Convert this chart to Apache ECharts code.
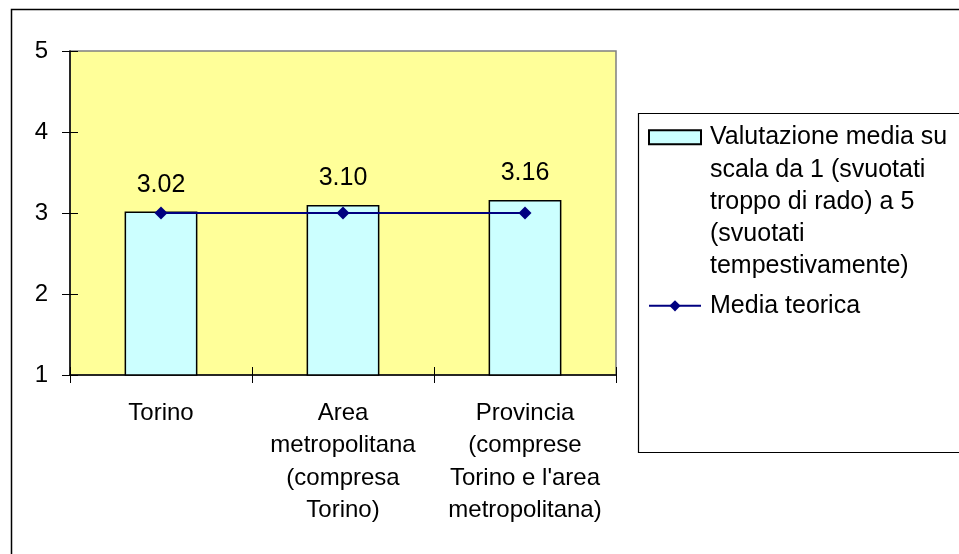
<!DOCTYPE html>
<html>
<head>
<meta charset="utf-8">
<script src="https://cdn.jsdelivr.net/npm/echarts@6/dist/echarts.min.js"></script>
<style>
  html, body { margin: 0; padding: 0; background: #ffffff; }
  #chart { width: 959px; height: 554px; }
</style>
</head>
<body>
<div id="chart"></div>
<script>
// Categories along the x axis
const categories = [
  'Torino',
  'Area\nmetropolitana\n(compresa\nTorino)',
  "Provincia\n(comprese\nTorino e l'area\nmetropolitana)"
];
// Average rating on a 1–5 scale
const ratingValues = [3.02, 3.10, 3.16];
// Theoretical midpoint of the scale
const theoreticalMean = [3, 3, 3];
// Y axis range
const yMin = 1, yMax = 5, yStep = 1;

const ratingName = 'Valutazione media su\nscala da 1 (svuotati\ntroppo di rado) a 5\n(svuotati\ntempestivamente)';
const meanName = 'Media teorica';

const FONT = '"Liberation Sans", Arial, sans-serif';

const chart = echarts.init(document.getElementById('chart'), null, { renderer: 'canvas' });

chart.setOption({
  animation: false,
  backgroundColor: '#ffffff',
  textStyle: { fontFamily: FONT, color: '#000000' },
  grid: {
    left: 70, top: 51, right: 343, bottom: 179,
    show: true,
    backgroundColor: '#FFFF99',
    borderColor: '#808080',
    borderWidth: 1.5
  },
  xAxis: [{
    type: 'category',
    data: categories,
    boundaryGap: true,
    axisLine: { show: true, lineStyle: { color: '#000000', width: 1.5 } },
    axisTick: { show: true, length: 8, alignWithLabel: false, lineStyle: { color: '#000000', width: 1 } },
    axisLabel: {
      interval: 0, margin: 22,
      fontSize: 24, lineHeight: 32.5, color: '#000000', fontFamily: FONT
    },
    splitLine: { show: false }
  }, {
    // inner half of the crossing tick marks
    type: 'category',
    data: categories,
    position: 'bottom',
    boundaryGap: true,
    axisLine: { show: false },
    axisTick: { show: true, inside: true, length: 8, lineStyle: { color: '#000000', width: 1 } },
    axisLabel: { show: false },
    splitLine: { show: false }
  }],
  yAxis: [{
    type: 'value',
    min: yMin, max: yMax, interval: yStep,
    axisLine: { show: true, lineStyle: { color: '#000000', width: 1.5 } },
    axisTick: { show: true, length: 8, lineStyle: { color: '#000000', width: 1 } },
    axisLabel: { margin: 22, fontSize: 24, color: '#000000', fontFamily: FONT },
    splitLine: { show: false }
  }, {
    type: 'value',
    position: 'left',
    min: yMin, max: yMax, interval: yStep,
    axisLine: { show: false },
    axisTick: { show: true, inside: true, length: 8, lineStyle: { color: '#000000', width: 1 } },
    axisLabel: { show: false },
    splitLine: { show: false }
  }],
  legend: {
    orient: 'vertical',
    left: 648,
    top: -8,
    padding: 0,
    itemGap: 7,
    itemWidth: 52,
    itemHeight: 14,
    textStyle: { fontSize: 25, lineHeight: 32.3, color: '#000000', fontFamily: FONT, padding: [0, 0, 0, 4] },
    formatter: function (name) {
      // leading blank lines keep the first line level with the icon
      return name === ratingName ? '\n\n\n\n' + name : name;
    },
    data: [{ name: ratingName, icon: 'rect' }, { name: meanName }]
  },
  graphic: [
    {
      type: 'rect', silent: true, z: -1,
      shape: { x: 11.5, y: 9.5, width: 960, height: 560 },
      style: { fill: 'none', stroke: '#000000', lineWidth: 1.5 }
    },
    {
      type: 'rect', silent: true, z: -1,
      shape: { x: 638.5, y: 113.5, width: 400, height: 339 },
      style: { fill: '#ffffff', stroke: '#000000', lineWidth: 1.2 }
    }
  ],
  series: [
    {
      name: ratingName,
      type: 'bar',
      data: ratingValues,
      barWidth: '40%',
      itemStyle: { color: '#CCFFFF', borderColor: '#000000', borderWidth: 1.5 },
      label: {
        show: true, position: 'top', distance: 14,
        fontSize: 25, color: '#000000', fontFamily: FONT,
        formatter: function (p) { return p.value.toFixed(2); }
      }
    },
    {
      name: meanName,
      type: 'line',
      data: theoreticalMean,
      symbol: 'diamond',
      symbolSize: 13,
      lineStyle: { color: '#000080', width: 2 },
      itemStyle: { color: '#000080' },
      z: 3
    }
  ]
});
</script>
</body>
</html>
